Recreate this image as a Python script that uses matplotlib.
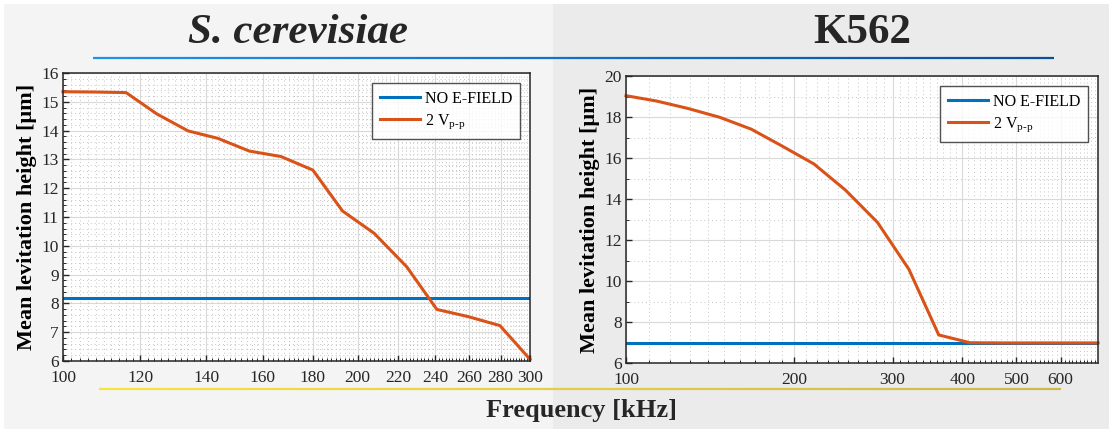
import numpy as np
import matplotlib
matplotlib.use('Agg')
import matplotlib.pyplot as plt
from matplotlib.patches import Rectangle
from matplotlib.collections import LineCollection
from matplotlib.colors import LinearSegmentedColormap
from matplotlib.ticker import FixedLocator, FixedFormatter, NullFormatter

plt.rcParams['font.family'] = ['Liberation Serif', 'DejaVu Serif']
plt.rcParams['mathtext.fontset'] = 'custom'
plt.rcParams['mathtext.rm'] = 'Liberation Serif'

# ---- S. cerevisiae data ----
f_sc = [100, 107.6, 116, 124.7, 134.2, 144, 155, 167, 180, 193, 208, 224.5, 241, 259.5, 279.5, 300]
h_sc = [15.35, 15.34, 15.32, 14.58, 13.99, 13.73, 13.29, 13.10, 12.63, 11.21, 10.43, 9.27, 7.79, 7.54, 7.23, 6.06]
h_sc_ref = 8.20
xt_sc = [100, 120, 140, 160, 180, 200, 220, 240, 260, 280, 300]
yt_sc = [6, 7, 8, 9, 10, 11, 12, 13, 14, 15, 16]

# ---- K562 data ----
f_k = [100, 113.4, 129, 147, 167.5, 189, 217, 247, 282, 321, 363, 413, 474, 539, 614, 700]
h_k = [19.04, 18.78, 18.42, 17.99, 17.41, 16.63, 15.71, 14.44, 12.86, 10.57, 7.37, 6.99, 6.98, 6.98, 6.98, 6.98]
h_k_ref = 6.97
xt_k = [100, 200, 300, 400, 500, 600]
yt_k = [6, 8, 10, 12, 14, 16, 18, 20]

blue = '#0072BD'
orange = '#D95319'

fig = plt.figure(figsize=(11.09, 4.29), dpi=100)
fig.patches.append(Rectangle((4/1109, 0), 549/1109, 1 - 4/429, transform=fig.transFigure,
                             facecolor='#f4f4f4', edgecolor='none', zorder=-10))
fig.patches.append(Rectangle((553/1109, 0), 1 - 553/1109, 1 - 4/429, transform=fig.transFigure,
                             facecolor='#ebebeb', edgecolor='none', zorder=-10))

ax1 = fig.add_axes([0.0568, 0.1585, 0.4211, 0.6713])
ax2 = fig.add_axes([0.5645, 0.1538, 0.4256, 0.6690])


def style(ax, xt, yt, xminor, yminor, xlim, ylim):
    ax.set_xscale('log')
    ax.set_xlim(xlim)
    ax.set_ylim(ylim)
    ax.xaxis.set_major_locator(FixedLocator(xt))
    ax.xaxis.set_major_formatter(FixedFormatter([str(v) for v in xt]))
    ax.xaxis.set_minor_locator(FixedLocator(xminor))
    ax.xaxis.set_minor_formatter(NullFormatter())
    ax.set_yticks(yt)
    ax.yaxis.set_minor_locator(FixedLocator(yminor))
    ax.set_facecolor('white')
    ax.grid(True, which='major', color='#d9d9d9', lw=0.8)
    ax.grid(True, which='minor', color='#c4c4c4', lw=0.7, ls=(0, (1, 3)))
    ax.set_axisbelow(True)
    ax.tick_params(which='both', direction='in', labelsize=12.5, colors='#262626')
    ax.tick_params(axis='x', pad=6.5)
    ax.tick_params(axis='y', pad=3)
    ax.tick_params(which='major', length=4.5, width=1)
    ax.tick_params(which='minor', length=2.5, width=0.7)
    for s in ax.spines.values():
        s.set_color('#262626')
        s.set_linewidth(1.1)
    ax.set_ylabel('Mean levitation height [μm]', fontsize=16, fontweight='bold', labelpad=3)


style(ax1, xt_sc, yt_sc, np.arange(102, 300, 2), np.arange(6, 16.01, 0.2), (100, 300), (6, 16))
style(ax2, xt_k, yt_k, np.arange(110, 700, 10), np.arange(7, 20, 2), (100, 700), (6, 20))

for ax, f, h, ref in [(ax1, f_sc, h_sc, h_sc_ref), (ax2, f_k, h_k, h_k_ref)]:
    ax.plot([f[0], f[-1]], [ref, ref], color=blue, lw=2.2, label='NO E-FIELD')
    ax.plot(f, h, color=orange, lw=2.2, label='2 V$_{\\mathrm{p\u2010p}}$', clip_on=False)
    leg = ax.legend(loc='upper right', fontsize=11.5, frameon=True, fancybox=False,
                    handlelength=2.5, borderpad=0.5, labelspacing=0.35, handletextpad=0.3,
                    borderaxespad=0.6)
    leg.get_frame().set_edgecolor('#262626')
    leg.get_frame().set_linewidth(1.0)

fig.text(298/1109, 1 - 33/429, 'S. cerevisiae', fontsize=31, fontweight='bold', style='italic',
         ha='center', va='center', color='#262626')
fig.text(862/1109, 1 - 33/429, 'K562', fontsize=31, fontweight='bold',
         ha='center', va='center', color='#262626')
fig.text(582/1109, 1 - 411/429, 'Frequency [kHz]', fontsize=19, fontweight='bold',
         ha='center', va='center', color='#262626')

# decorative gradient rules
def rule(y, x0, x1, c0, c1):
    xs = np.linspace(x0, x1, 200)
    segs = [[(xs[i] / 1109, 1 - y / 429), (xs[i + 1] / 1109, 1 - y / 429)] for i in range(len(xs) - 1)]
    cmap = LinearSegmentedColormap.from_list('g', [c0, c1])
    lc = LineCollection(segs, colors=cmap(np.linspace(0, 1, len(segs))), linewidths=1.6,
                        transform=fig.transFigure)
    fig.add_artist(lc)

rule(58, 93, 1054, '#1f92ea', '#0a4f9c')
rule(389, 99, 1061, '#f7e440', '#cdb84e')

fig.savefig('out.png', dpi=100)
